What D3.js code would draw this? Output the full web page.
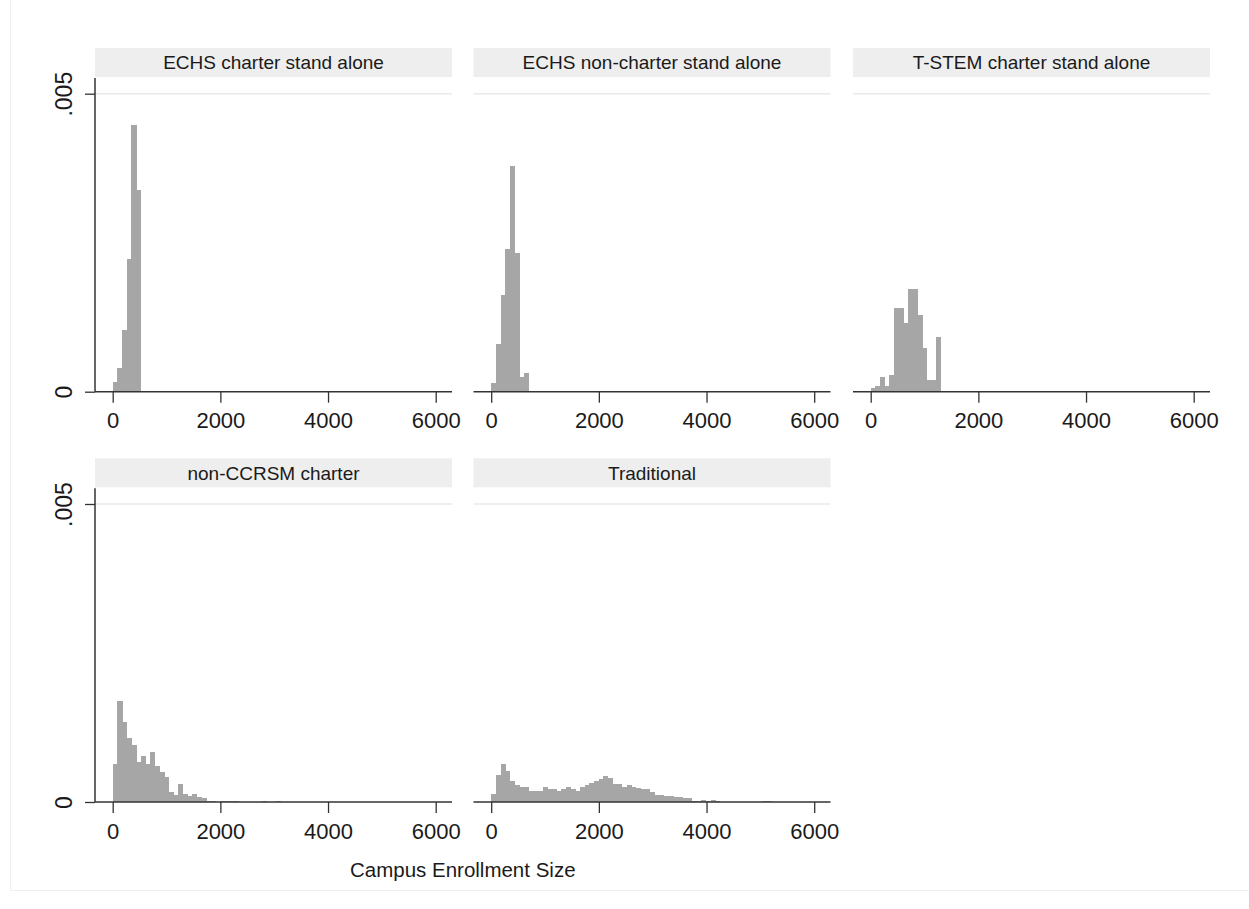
<!DOCTYPE html>
<html>
<head>
<meta charset="utf-8">
<script src="https://cdn.jsdelivr.net/npm/d3@7"></script>
<style>
  body { margin: 0; background: #fff; }
  text { font-family: "Liberation Sans", Arial, Helvetica, sans-serif; }
</style>
</head>
<body>
<div id="chart"></div>
<script>
(function() {

    // density per bin, bins of equal width starting at 0
    var binWidth = 86.7;

    var echsCharter = [0.00017, 0.00040, 0.00104, 0.00222, 0.00448, 0.00339];
    var echsNonCharter = [0.00015, 0.00080, 0.00162, 0.00240, 0.00378, 0.00233, 0.00024, 0.00032];
    var tstemCharter = [0.00006, 0.00010, 0.00025, 0.00010, 0.00028, 0.00141, 0.00141, 0.00115,
        0.00173, 0.00172, 0.00129, 0.00073, 0.00020, 0.00020, 0.00092];
    var nonCcrsmCharter = [0.00064, 0.00169, 0.00134, 0.00107, 0.00095, 0.00067, 0.00078, 0.00064,
        0.00084, 0.00060, 0.00050, 0.00042, 0.00017, 0.00011, 0.00030, 0.00013, 0.00010, 0.00013,
        0.00008, 0.00006, 0.00002, 0.00002, 0, 0.00002, 0.00001, 0.00002, 0.00001, 0, 0, 0, 0, 0,
        0.00002, 0, 0, 0.00002];
    var traditional = [0.00014, 0.00046, 0.00064, 0.00052, 0.00035, 0.00029, 0.00025, 0.00025,
        0.00019, 0.00019, 0.00019, 0.00025, 0.00022, 0.00021, 0.00018, 0.00022, 0.00025, 0.00021,
        0.00019, 0.00026, 0.00029, 0.00032, 0.00035, 0.00038, 0.00044, 0.00040, 0.00030, 0.00030,
        0.00025, 0.00028, 0.00026, 0.00023, 0.00022, 0.00021, 0.00017, 0.00011, 0.00011, 0.00010,
        0.00010, 0.00009, 0.00008, 0.00006, 0.00006, 0.00002, 0.00001, 0.00004, 0.00002, 0.00004,
        0.00001, 0.000005, 0.000005, 0.000005, 0.000005, 0.000008, 0.000008, 0.000008, 0.000005,
        0.000008, 0.00001, 0.00001];

    var panelTitles = ["ECHS charter stand alone", "ECHS non-charter stand alone", "T-STEM charter stand alone",
        "non-CCRSM charter", "Traditional"];
    var panelData = [echsCharter, echsNonCharter, tstemCharter, nonCcrsmCharter, traditional];

    var xTicks = [0, 2000, 4000, 6000];
    var yTicks = [0, 0.005];
    var xTitle = "Campus Enrollment Size";

    var width = 1249;
    var height = 909;

    var panelLefts = [95, 473.5, 853];
    var panelWidth = 357;
    var rowTops = [48, 458.3];      // top of the strip
    var stripHeight = 29;
    var plotGap = 1;                // strip bottom -> axis top
    var gridOffset = 15.7;          // axis top -> .005 line
    var yPix = 298;                 // pixels for 0 -> .005
    var barColor = "#a6a6a6";

    var svg = d3.select("#chart").append("svg")
        .attr("width", width)
        .attr("height", height);

    svg.append("rect")
        .attr("width", width).attr("height", height)
        .attr("fill", "#fff");

    // faint outer frame
    svg.append("path")
        .attr("d", "M10.5,0 V890.5 H1249")
        .attr("fill", "none")
        .attr("stroke", "#efefef")
        .attr("stroke-width", 1);

    panelData.forEach(function(bins, i) {
        var col = i % 3;
        var row = Math.floor(i / 3);
        var left = panelLefts[col];
        var top = rowTops[row];
        var plotTop = top + stripHeight + plotGap;
        var y005 = plotTop + gridOffset;
        var y0 = y005 + yPix;

        var x = d3.scaleLinear()
            .domain([0, 6000])
            .range([left + 17.7, left + 340.7]);
        var y = d3.scaleLinear()
            .domain([0, 0.005])
            .range([y0, y005]);

        var g = svg.append("g").attr("class", "panel");

        // strip
        g.append("rect")
            .attr("x", left)
            .attr("y", top)
            .attr("width", panelWidth)
            .attr("height", stripHeight)
            .attr("fill", "#eeeeee");
        g.append("text")
            .attr("x", left + panelWidth / 2)
            .attr("y", top + stripHeight / 2 + 6.8)
            .attr("text-anchor", "middle")
            .attr("font-size", 19)
            .attr("fill", "#1a1a1a")
            .text(panelTitles[i]);

        // gridline at .005
        g.append("line")
            .attr("x1", left).attr("x2", left + panelWidth)
            .attr("y1", y(0.005)).attr("y2", y(0.005))
            .attr("stroke", "#eaeaea")
            .attr("stroke-width", 1.5);

        // bars
        g.selectAll("rect.bar")
            .data(bins)
            .enter().append("rect")
            .attr("class", "bar")
            .attr("x", function(d, j) { return x(j * binWidth); })
            .attr("width", x(binWidth) - x(0) + 0.5)
            .attr("y", function(d) { return y(d); })
            .attr("height", function(d) { return y(0) - y(d); })
            .attr("fill", barColor)
            .attr("shape-rendering", "crispEdges");

        // x axis
        var xa = g.append("g")
            .attr("transform", "translate(0," + y0 + ")")
            .call(d3.axisBottom(x)
                .tickValues(xTicks)
                .tickSize(11)
                .tickPadding(10)
                .tickFormat(d3.format("d")));
        xa.select(".domain").remove();
        xa.selectAll("line").attr("stroke", "#333").attr("stroke-width", 1.3);
        xa.selectAll("text")
            .attr("font-size", 22)
            .attr("fill", "#1a1a1a")
            .attr("font-family", "'Liberation Sans', Arial, sans-serif");
        g.append("line")
            .attr("x1", left).attr("x2", left + panelWidth)
            .attr("y1", y0).attr("y2", y0)
            .attr("stroke", "#333")
            .attr("stroke-width", 1.5);

        // y axis only on the left column
        if (col === 0) {
            var ya = g.append("g")
                .attr("transform", "translate(" + left + ",0)")
                .call(d3.axisLeft(y)
                    .tickValues(yTicks)
                    .tickSize(10)
                    .tickFormat(function(d) { return d === 0 ? "0" : ".005"; }));
            ya.select(".domain").remove();
            ya.selectAll("line").attr("stroke", "#333").attr("stroke-width", 1.3);
            ya.selectAll("text")
                .attr("transform", "rotate(-90)")
                .attr("x", 0)
                .attr("y", -23)
                .attr("dy", 0)
                .attr("text-anchor", "middle")
                .attr("font-size", 23)
                .attr("fill", "#1a1a1a")
                .attr("font-family", "'Liberation Sans', Arial, sans-serif");
            g.append("line")
                .attr("x1", left).attr("x2", left)
                .attr("y1", plotTop).attr("y2", y0)
                .attr("stroke", "#333")
                .attr("stroke-width", 1.5);
        }
    });

    // common x title, centred under the bottom row
    svg.append("text")
        .attr("x", (panelLefts[0] + panelLefts[1] + panelWidth) / 2)
        .attr("y", 877)
        .attr("text-anchor", "middle")
        .attr("font-size", 20.5)
        .attr("fill", "#1a1a1a")
        .text(xTitle);

})();
</script>
</body>
</html>
